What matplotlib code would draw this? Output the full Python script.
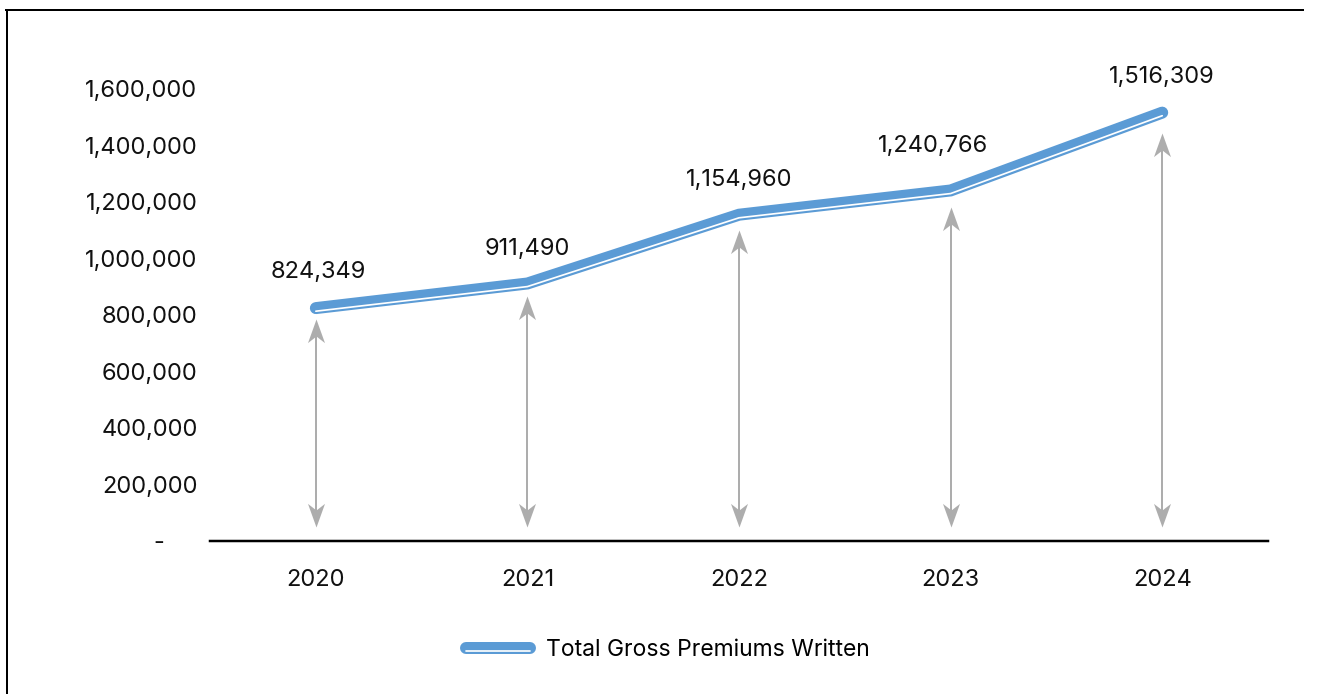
import matplotlib
matplotlib.use("Agg")
import matplotlib.pyplot as plt
import matplotlib.patheffects as pe
from matplotlib.path import Path
from matplotlib.lines import Line2D
from matplotlib.ticker import FuncFormatter

plt.rcParams['font.family'] = ['Inter', 'DejaVu Sans']

# Gross premiums written per year
years = ['2020', '2021', '2022', '2023', '2024']
premiums = [824349, 911490, 1154960, 1240766, 1516309]
y_ticks = [0, 200000, 400000, 600000, 800000, 1000000, 1200000, 1400000, 1600000]

# label offsets in points (x, y) above each point
label_offsets = [(2, 26), (0, 25), (0, 25), (-13, 32), (0, 26)]

BLUE = '#5B9BD5'
GREY = '#ADADAD'
PX = 0.72  # points per pixel at dpi 100

fig = plt.figure(figsize=(13.17, 6.94), dpi=100)
ax = fig.add_axes([0.1595, 0.2205, 0.8033, 0.7327])

x = list(range(len(years)))

# double-headed arrows from near zero up to just under each point
head = Path([(0, 0), (-0.36, -1), (0, -0.72), (0.36, -1), (0, 0)],
            [Path.MOVETO, Path.LINETO, Path.LINETO, Path.LINETO, Path.CLOSEPOLY])
head_down = Path([(0, 0), (-0.36, 1), (0, 0.72), (0.36, 1), (0, 0)],
                 [Path.MOVETO, Path.LINETO, Path.LINETO, Path.LINETO, Path.CLOSEPOLY])
arrow_low = 50000
for xi, v in zip(x, premiums):
    top = v * 0.952
    ax.plot([xi, xi], [arrow_low + 30000, top - 30000], color=GREY, lw=2 * PX,
            solid_capstyle='butt', zorder=1)
    ax.plot([xi], [top], marker=head, markersize=34, color=GREY, mew=0, zorder=1)
    ax.plot([xi], [arrow_low], marker=head_down, markersize=34, color=GREY, mew=0, zorder=1)

# compound line: thick blue with a thin white stripe along the lower edge
line, = ax.plot(x, premiums, color=BLUE, lw=12 * PX, solid_capstyle='round',
                solid_joinstyle='miter', zorder=3, label='Total Gross Premiums Written',
                path_effects=[pe.Normal(),
                              pe.Stroke(offset=(0, -3.1 * PX), linewidth=1.7 * PX,
                                        foreground='white', capstyle='round')])

for xi, v, off in zip(x, premiums, label_offsets):
    ax.annotate(f'{v:,}', (xi, v), xytext=off, textcoords='offset points',
                ha='center', va='center', fontsize=17, color='#111111')

ax.set_xlim(-0.5, len(years) - 0.5)
ax.set_ylim(0, 1800000)
ax.set_xticks(x, years)
ax.set_yticks(y_ticks)
ax.yaxis.set_major_formatter(FuncFormatter(lambda v, p: f'{v:,.0f}' if v else '-     '))
ax.tick_params(axis='y', length=0, pad=9, labelsize=17, labelcolor='#111111')
ax.tick_params(axis='x', length=0, pad=20, labelsize=17, labelcolor='#111111')

for s in ['top', 'right', 'left']:
    ax.spines[s].set_visible(False)
ax.spines['bottom'].set_linewidth(2.5 * PX)
ax.spines['bottom'].set_color('black')

fig.legend(handles=[line], loc='center', bbox_to_anchor=(0.507, 0.063), frameon=False,
           fontsize=16.5, handlelength=2.8, handletextpad=0.7)

# outer frame: left and top edges only
frame_x = 6.5 / 1317
frame_y = (694 - 9.5) / 694
fig.add_artist(Line2D([frame_x, frame_x], [0.0005, frame_y],
                      transform=fig.transFigure, color='black', lw=2 * PX,
                      solid_capstyle='butt'))
fig.add_artist(Line2D([frame_x - 0.0008, 0.99], [frame_y, frame_y],
                      transform=fig.transFigure, color='black', lw=2 * PX,
                      solid_capstyle='butt'))

fig.savefig('out.png', dpi=100)
